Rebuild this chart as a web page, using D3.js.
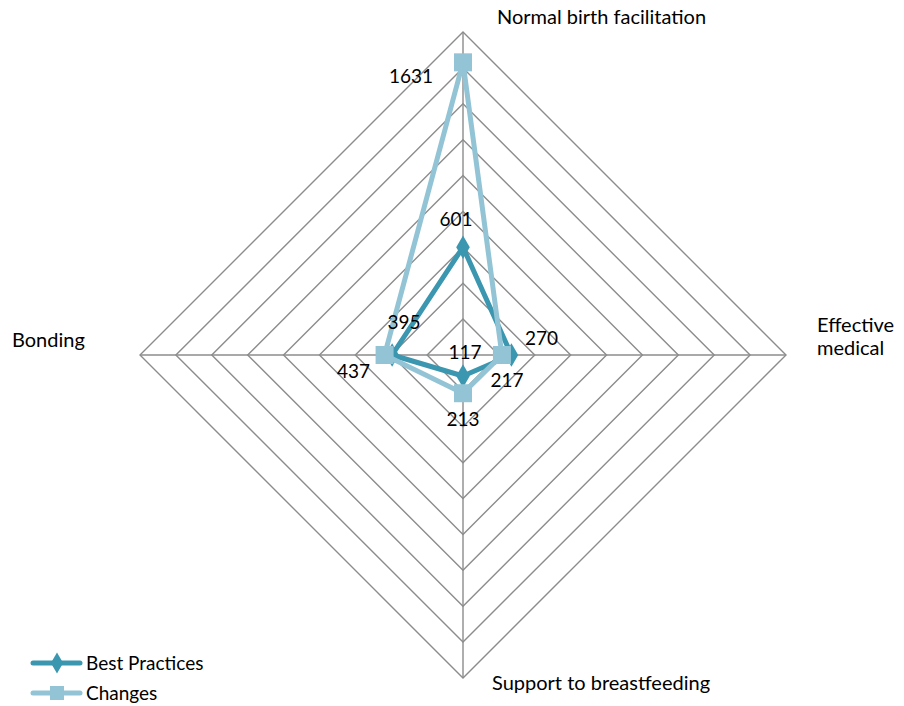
<!DOCTYPE html>
<html>
<head>
<meta charset="utf-8">
<script src="https://cdn.jsdelivr.net/npm/d3@7"></script>
<style>
  html, body { margin: 0; padding: 0; background: #fff; }
  svg { display: block; }
  text { font-family: Lato, "Open Sans", sans-serif; fill: #000; }
</style>
</head>
<body>
<svg id="chart" width="904" height="706"></svg>
<script>
// ---- data ----
const categories = ["Normal birth facilitation", "Effective medical", "Support to breastfeeding", "Bonding"];
const seriesNames = ["Best Practices", "Changes"];
const bestPractices = [601, 270, 117, 395];
const changes = [1631, 217, 213, 437];
const gridTicks = [200, 400, 600, 800, 1000, 1200, 1400, 1600, 1800];

// ---- styles / layout ----
const colors = ["#3b97b0", "#92c4d5"];
const cx = 463, cy = 355, R = 323;
const labelOffsets = [
  [[-7, -21], [30, -10], [2, -17], [12, -26]],
  [[-52, 21], [5, 32], [0, 33], [-31, 23]]
];

const svg = d3.select("#chart");
const r = d3.scaleLinear().domain([0, d3.max(gridTicks)]).range([0, R]);
const angle = i => -Math.PI / 2 + i * 2 * Math.PI / categories.length;
const pt = (v, i) => [cx + r(v) * Math.cos(angle(i)), cy + r(v) * Math.sin(angle(i))];

// grid rings
const g = svg.append("g");
gridTicks.forEach(t => {
  g.append("path")
    .attr("d", d3.line()(categories.map((c, i) => pt(t, i))) + "Z")
    .attr("fill", "none").attr("stroke", "#8c8c8c").attr("stroke-width", 1.4);
});
// spokes
categories.forEach((c, i) => {
  const [x, y] = pt(d3.max(gridTicks), i);
  g.append("line").attr("x1", cx).attr("y1", cy).attr("x2", x).attr("y2", y)
    .attr("stroke", "#8c8c8c").attr("stroke-width", 1.4);
});

// category labels
const catLabelPos = [
  { x: 497, y: 24, anchor: "start" },
  { x: 817, y: 332, anchor: "start" },
  { x: 492, y: 690, anchor: "start" },
  { x: 12, y: 347, anchor: "start" }
];
categories.forEach((c, i) => {
  const p = catLabelPos[i];
  const words = i === 1 ? c.split(" ") : [c];
  const t = svg.append("text").attr("x", p.x).attr("y", p.y)
    .attr("text-anchor", p.anchor).attr("font-size", 20);
  words.forEach((w, k) => {
    t.append("tspan").attr("x", p.x).attr("dy", k === 0 ? 0 : 23).text(w);
  });
});

// series
const allSeries = [bestPractices, changes];
const lineGen = d3.line();
allSeries.forEach((vals, s) => {
  const pts = vals.map((v, i) => pt(v, i));
  svg.append("path")
    .attr("d", lineGen(pts) + "Z")
    .attr("fill", "none").attr("stroke", colors[s]).attr("stroke-width", 5)
    .attr("stroke-linejoin", "round");
  pts.forEach(([x, y]) => {
    if (s === 0) {
      svg.append("path")
        .attr("d", d3.symbol(d3.symbolDiamond, 160)())
        .attr("transform", `translate(${x},${y})`)
        .attr("fill", colors[s]);
    } else {
      svg.append("rect").attr("x", x - 9).attr("y", y - 9)
        .attr("width", 18).attr("height", 18).attr("fill", colors[s]);
    }
  });
});

// data labels
allSeries.forEach((vals, s) => {
  vals.forEach((v, i) => {
    const [x, y] = pt(v, i);
    const [dx, dy] = labelOffsets[s][i];
    svg.append("text").attr("x", x + dx).attr("y", y + dy)
      .attr("text-anchor", "middle").attr("font-size", 19).text(v);
  });
});

// legend
const legend = svg.append("g");
seriesNames.forEach((name, s) => {
  const y = 663 + s * 30;
  legend.append("line").attr("x1", 33).attr("x2", 80).attr("y1", y).attr("y2", y)
    .attr("stroke", colors[s]).attr("stroke-width", 5).attr("stroke-linecap", "round");
  if (s === 0) {
    legend.append("path").attr("d", d3.symbol(d3.symbolDiamond, 130)())
      .attr("transform", `translate(57,${y})`).attr("fill", colors[s]);
  } else {
    legend.append("rect").attr("x", 50).attr("y", y - 7).attr("width", 14).attr("height", 14)
      .attr("fill", colors[s]);
  }
  legend.append("text").attr("x", 86).attr("y", y + 7).attr("font-size", 19).text(name);
});
</script>
</body>
</html>
